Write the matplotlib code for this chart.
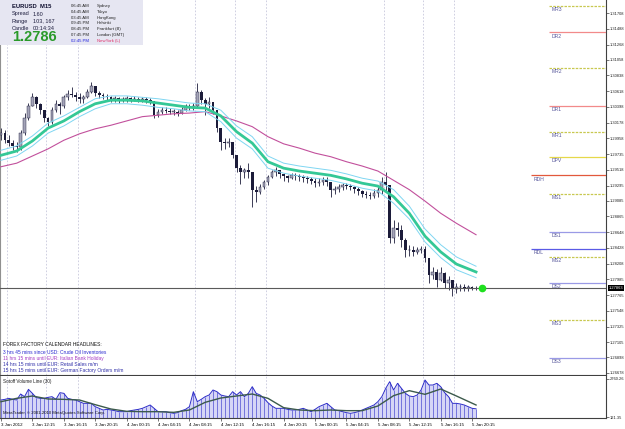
import numpy as np
import matplotlib
matplotlib.use('Agg')
import matplotlib.pyplot as plt
import matplotlib.transforms as mtransforms
from matplotlib.patches import Rectangle

plt.rcParams['font.family'] = ['Liberation Sans', 'DejaVu Sans']

W, H = 625, 429

# EURUSD M15, one sample every 2nd bar (bar 0 = 3 Jan 08:15)
bar_idx = list(range(0, 244, 2))
first_open = 1.3000
highs = [1.3010, 1.3007, 1.3000, 1.2993, 1.2991, 1.3007, 1.3031, 1.3045, 1.3059, 1.3055,
         1.3045, 1.3035, 1.3026, 1.3039, 1.3049, 1.3046, 1.3056, 1.3063, 1.3067, 1.3060,
         1.3059, 1.3056, 1.3065, 1.3074, 1.3067, 1.3062, 1.3059, 1.3058, 1.3055, 1.3055,
         1.3053, 1.3053, 1.3055, 1.3053, 1.3055, 1.3053, 1.3053, 1.3053, 1.3052, 1.3046,
         1.3037, 1.3039, 1.3039, 1.3038, 1.3037, 1.3035, 1.3039, 1.3044, 1.3044, 1.3045,
         1.3073, 1.3063, 1.3052, 1.3053, 1.3046, 1.3035, 1.3010, 1.2996, 1.2996, 1.2988,
         1.2972, 1.2958, 1.2954, 1.2961, 1.2949, 1.2929, 1.2932, 1.2937, 1.2944, 1.2951,
         1.2956, 1.2951, 1.2947, 1.2944, 1.2947, 1.2947, 1.2946, 1.2944, 1.2943, 1.2942,
         1.2940, 1.2940, 1.2942, 1.2942, 1.2935, 1.2929, 1.2932, 1.2933, 1.2933, 1.2932,
         1.2929, 1.2928, 1.2924, 1.2922, 1.2921, 1.2925, 1.2928, 1.2942, 1.2949, 1.2924,
         1.2882, 1.2879, 1.2875, 1.2856, 1.2847, 1.2845, 1.2844, 1.2845, 1.2845, 1.2823,
         1.2816, 1.2813, 1.2816, 1.2809, 1.2803, 1.2795, 1.2794, 1.2792, 1.2792, 1.2791,
         1.2789, 1.2789]
lows = [1.2993, 1.2989, 1.2985, 1.2979, 1.2977, 1.2979, 1.3000, 1.3021, 1.3041, 1.3038,
        1.3030, 1.3019, 1.3013, 1.3016, 1.3033, 1.3030, 1.3038, 1.3049, 1.3053, 1.3048,
        1.3045, 1.3045, 1.3052, 1.3059, 1.3055, 1.3052, 1.3051, 1.3049, 1.3046, 1.3046,
        1.3045, 1.3046, 1.3046, 1.3046, 1.3048, 1.3046, 1.3046, 1.3045, 1.3044, 1.3024,
        1.3026, 1.3030, 1.3031, 1.3030, 1.3028, 1.3027, 1.3030, 1.3034, 1.3035, 1.3035,
        1.3038, 1.3044, 1.3028, 1.3038, 1.3030, 1.3005, 1.2979, 1.2981, 1.2984, 1.2968,
        1.2949, 1.2932, 1.2940, 1.2940, 1.2900, 1.2907, 1.2918, 1.2925, 1.2930, 1.2940,
        1.2943, 1.2940, 1.2936, 1.2935, 1.2939, 1.2937, 1.2936, 1.2935, 1.2933, 1.2932,
        1.2928, 1.2929, 1.2930, 1.2929, 1.2914, 1.2918, 1.2921, 1.2924, 1.2925, 1.2924,
        1.2919, 1.2917, 1.2914, 1.2912, 1.2911, 1.2912, 1.2914, 1.2918, 1.2921, 1.2849,
        1.2849, 1.2859, 1.2844, 1.2830, 1.2831, 1.2831, 1.2834, 1.2836, 1.2823, 1.2794,
        1.2799, 1.2788, 1.2796, 1.2787, 1.2784, 1.2775, 1.2780, 1.2782, 1.2782, 1.2782,
        1.2784, 1.2784]
closes = [1.3003, 1.2993, 1.2989, 1.2985, 1.2984, 1.3003, 1.3024, 1.3041, 1.3053, 1.3044,
          1.3035, 1.3024, 1.3019, 1.3035, 1.3044, 1.3041, 1.3053, 1.3058, 1.3056, 1.3053,
          1.3051, 1.3053, 1.3060, 1.3069, 1.3059, 1.3056, 1.3055, 1.3053, 1.3051, 1.3052,
          1.3049, 1.3051, 1.3052, 1.3049, 1.3051, 1.3049, 1.3051, 1.3049, 1.3048, 1.3028,
          1.3033, 1.3035, 1.3034, 1.3033, 1.3033, 1.3031, 1.3035, 1.3041, 1.3038, 1.3041,
          1.3060, 1.3049, 1.3044, 1.3046, 1.3035, 1.3010, 1.2991, 1.2989, 1.2991, 1.2972,
          1.2954, 1.2949, 1.2951, 1.2949, 1.2924, 1.2921, 1.2928, 1.2935, 1.2942, 1.2949,
          1.2951, 1.2946, 1.2943, 1.2940, 1.2944, 1.2943, 1.2942, 1.2940, 1.2939, 1.2936,
          1.2933, 1.2935, 1.2937, 1.2935, 1.2924, 1.2925, 1.2928, 1.2930, 1.2929, 1.2928,
          1.2925, 1.2922, 1.2918, 1.2917, 1.2915, 1.2919, 1.2924, 1.2935, 1.2930, 1.2856,
          1.2871, 1.2868, 1.2854, 1.2840, 1.2840, 1.2837, 1.2840, 1.2841, 1.2829, 1.2805,
          1.2809, 1.2798, 1.2808, 1.2794, 1.2798, 1.2785, 1.2788, 1.2788, 1.2787, 1.2788,
          1.2787, 1.2786]
current_price = 1.27863

# moving averages, sampled every 8 bars
ma_idx = list(range(0, 233, 8)) + [242]
ma_green = [1.2972, 1.2978, 1.2992, 1.3010, 1.3020, 1.3033, 1.3044, 1.3049, 1.3049, 1.3048,
            1.3045, 1.3042, 1.3039, 1.3038, 1.3027, 1.3005, 1.2989, 1.2963, 1.2954, 1.2950,
            1.2947, 1.2944, 1.2939, 1.2933, 1.2929, 1.2914, 1.2891, 1.2859, 1.2837, 1.2820, 1.2809]
band_upper = [1.2979, 1.2985, 1.2999, 1.3017, 1.3027, 1.3039, 1.3051, 1.3055, 1.3055, 1.3053,
              1.3051, 1.3048, 1.3045, 1.3044, 1.3035, 1.3013, 1.2998, 1.2971, 1.2961, 1.2957,
              1.2954, 1.2951, 1.2946, 1.2940, 1.2936, 1.2924, 1.2901, 1.2869, 1.2847, 1.2830, 1.2817]
band_lower = [1.2965, 1.2971, 1.2985, 1.3003, 1.3013, 1.3026, 1.3037, 1.3044, 1.3044, 1.3042,
              1.3039, 1.3037, 1.3034, 1.3033, 1.3019, 1.2996, 1.2981, 1.2954, 1.2947, 1.2943,
              1.2940, 1.2937, 1.2932, 1.2926, 1.2922, 1.2905, 1.2883, 1.2851, 1.2829, 1.2812, 1.2801]
ma_slow = [1.2956, 1.2961, 1.2971, 1.2981, 1.2993, 1.3002, 1.3009, 1.3014, 1.3020, 1.3026,
           1.3028, 1.3030, 1.3031, 1.3033, 1.3027, 1.3020, 1.3012, 1.2998, 1.2988, 1.2982,
           1.2975, 1.2970, 1.2963, 1.2957, 1.2950, 1.2937, 1.2924, 1.2908, 1.2891, 1.2877, 1.2861]

# volume indicator
volumes = [1301, 1347, 1417, 1347, 1301, 1717, 1532, 2041, 1764, 1463,
           1417, 1417, 1486, 1532, 1347, 1810, 1764, 1417, 1347, 1301,
           1185, 1070, 1070, 1070, 838, 723, 607, 653, 607, 561,
           491, 491, 491, 561, 607, 653, 723, 838, 954, 723,
           491, 491, 491, 422, 376, 422, 561, 653, 838, 1879,
           1185, 1347, 1532, 1648, 1995, 1879, 1648, 1579, 1532, 1879,
           1648, 1879, 1532, 1764, 2226, 1764, 1648, 1417, 1116, 885,
           723, 723, 723, 653, 607, 607, 653, 723, 607, 491,
           653, 838, 954, 1070, 838, 607, 561, 491, 422, 376,
           422, 491, 607, 723, 838, 954, 1185, 1532, 2111, 2573,
           1995, 2458, 2111, 1764, 1579, 1532, 1648, 1995, 2689, 2342,
           2342, 2458, 2226, 1810, 1532, 1070, 1070, 1024, 954, 838,
           723, 690]
volume_ma = [1185, 1417, 1579, 1370, 1347, 1301, 977, 677, 515, 491, 491, 445, 607, 1139, 1440,
             1579, 1717, 1417, 769, 607, 561, 607, 561, 561, 885, 1602, 1949, 1694, 2065, 1579, 954]
vol_labels = ['2760.26', '121.35']

# pivot levels
pivot_names = ['MR3', 'DR2', 'MR2', 'DR1', 'MR1', 'DPV', 'RDH', 'MS1', 'DS1', 'RDL', 'MS2', 'DS2', 'MS3', 'DS3']
pivot_prices = [1.3181, 1.3144, 1.3094, 1.3041, 1.3005, 1.2970, 1.2944, 1.2918, 1.2865, 1.2841,
                1.2830, 1.2794, 1.2742, 1.2689]

price_labels = ['1.31708', '1.31488', '1.31268', '1.31058', '1.30838', '1.30618', '1.30398', '1.30178',
                '1.29958', '1.29735', '1.29518', '1.29295', '1.29085', '1.28865', '1.28648', '1.28428',
                '1.28208', '1.27985', '1.27765', '1.27548', '1.27325', '1.27105', '1.26898', '1.26678']
time_labels = ['3 Jan 2012', '3 Jan 12:15', '3 Jan 16:15', '3 Jan 20:15', '4 Jan 00:15', '4 Jan 04:15',
               '4 Jan 08:15', '4 Jan 12:15', '4 Jan 16:15', '4 Jan 20:15', '5 Jan 00:15', '5 Jan 04:15',
               '5 Jan 08:15', '5 Jan 12:15', '5 Jan 16:15', '5 Jan 20:15']

info_left = [('Spread', '1.60'), ('Range', '103, 167'), ('Candle', '00:14:34')]
clock_times = ['06:45 AM', '04:45 AM', '03:45 AM', '09:45 PM', '08:45 PM', '07:45 PM', '02:45 PM']
clock_cities = ['Sydney', 'Tokyo', 'HongKong', 'Helsinki', 'Frankfurt (B)', 'London (GMT)', 'NewYork (L)']
headlines = ['3 hrs 45 mins since USD: Crude Oil Inventories',
             '11 hrs 15 mins until EUR: Italian Bank Holiday',
             '14 hrs 15 mins until EUR: Retail Sales m/m',
             '15 hrs 15 mins until EUR: German Factory Orders m/m']
headline_colors = ['#2b2bd0', '#a63cc4', '#2f2fa8', '#2f2fa8']


def px(x, y):
    return x / W, 1 - y / H


fig = plt.figure(figsize=(W / 100, H / 100), dpi=100)
fig.patch.set_facecolor('white')

ax = fig.add_axes([0, 54 / H, 606 / W, 375 / H])
ax2 = fig.add_axes([0, 11 / H, 606 / W, 42 / H])

x_left, x_right = -0.5, 308.2
ax.set_xlim(x_left, x_right)
ax2.set_xlim(x_left, x_right)
ax.set_ylim(1.26650, 1.31890)
ax2.set_ylim(52, 2967)

# vertical dashed grid
for g in [3, 23, 39, 99, 119, 135, 195, 215, 231]:
    for a in (ax, ax2):
        a.axvline(g, color='#c8c8dc', lw=0.6, ls=(0, (2, 2)), zorder=0)

# candles
bars = np.array(bar_idx)
cl = np.array(closes)
op = np.array([first_open] + closes[:-1])
hi = np.maximum(np.array(highs), np.maximum(op, cl))
lo = np.minimum(np.array(lows), np.minimum(op, cl))
up = cl >= op
ax.vlines(bars, lo, hi, color='#1c1c3a', lw=0.6, zorder=2)
ax.bar(bars[up], np.maximum((cl - op)[up], 0.00003), bottom=op[up], width=1.4,
       color='#a4a4b8', edgecolor='#1c1c3a', lw=0.3, zorder=3)
ax.bar(bars[~up], (op - cl)[~up], bottom=cl[~up], width=1.4, color='#1c1c3a', lw=0, zorder=3)

# moving averages
ax.plot(ma_idx, ma_slow, color='#c2509c', lw=0.8, zorder=4)
ax.plot(ma_idx, band_upper, color='#7fd6f2', lw=0.7, zorder=4)
ax.plot(ma_idx, band_lower, color='#7fd6f2', lw=0.7, zorder=4)
ax.plot(ma_idx, ma_green, color='#34c896', lw=2.0, zorder=5)

# current price
ax.axhline(current_price, color='#5a5a5a', lw=0.8, zorder=4)
ax.plot(bar_idx[-1] + 3, current_price, 'o', color='#1ee01e', ms=4.5, zorder=6)

# pivot lines
pivot_style = {'MR': ('#c8c850', (0, (2, 1))), 'MS': ('#c8c850', (0, (2, 1))),
               'DR': ('#f28a8a', '-'), 'DS': ('#9a9ae6', '-'),
               'DP': ('#e6d84a', '-')}
for name, p in zip(pivot_names, pivot_prices):
    if name == 'RDH':
        col, ls, x0 = '#e2583c', '-', 270
    elif name == 'RDL':
        col, ls, x0 = '#5a5ae6', '-', 270
    else:
        col, ls = pivot_style[name[:2]]
        x0 = 279
    ax.hlines(p, x0, x_right, color=col, lw=0.9, linestyles=ls, zorder=3)
    ax.text(x0 + 1.5, p - 0.0002, name, fontsize=3.6, color='#55559a', va='top', ha='left', zorder=6)

# price axis
for a in (ax, ax2):
    a.yaxis.tick_right()
    a.tick_params(axis='y', length=2, width=0.5, color='#404040', labelsize=2.9, pad=1,
                  labelcolor='#202020')
    a.spines['top'].set_visible(False)
    a.spines['left'].set_color('#909090')
    a.spines['right'].set_color('#404040')
    a.spines['bottom'].set_color('#404040')
    for s in ('left', 'right', 'bottom'):
        a.spines[s].set_linewidth(0.8)
ax.set_yticks([float(s) for s in price_labels])
ax.set_yticklabels(price_labels)
ax.set_xticks([])
ax.text(1.004, current_price, f'{current_price:.5f}',
        transform=mtransforms.blended_transform_factory(ax.transAxes, ax.transData),
        fontsize=2.9, color='white', va='center', ha='left', clip_on=False, zorder=10,
        bbox=dict(boxstyle='square,pad=0.2', facecolor='black', edgecolor='none'))

# volume panel
vb = np.array(bar_idx)
vv = np.array(volumes)
ax2.fill_between(vb, 52, vv, color='#d6d6f6', lw=0, zorder=1)
ax2.vlines(vb, 52, vv, color='#6464d8', lw=0.6, zorder=2)
ax2.plot(vb, vv, color='#2c2cc8', lw=0.7, zorder=3)
ax2.plot(ma_idx, volume_ma, color='#3c5a4c', lw=1.0, zorder=4)
ax2.set_yticks([float(v) for v in vol_labels])
ax2.set_yticklabels(vol_labels)
ax2.set_xticks(list(range(0, 241, 16)))
ax2.set_xticklabels(time_labels, ha='left')
ax2.tick_params(axis='x', length=2, width=0.5, color='#404040', labelsize=3.2, pad=1.5)
ax2.text(3 / 606, 1 - 6 / 42, 'Sotoff Volume Line (30)', transform=ax2.transAxes, fontsize=3.3,
         color='#202020', va='center', ha='left', zorder=6)
ax2.text(3 / 606, 1 - 37 / 42, 'MetaTrader, \u00a9 2001-2010 MetaQuotes Software Corp.',
         transform=ax2.transAxes, fontsize=3.1, color='#101010', va='center', ha='left', zorder=6)

# info box
fig.add_artist(Rectangle(px(0, 45), 143 / W, 45 / H, transform=fig.transFigure,
                         facecolor='#e6e6f2', edgecolor='none', zorder=20))
fig.text(*px(12, 6), 'EURUSD  M15', fontsize=4.2, fontweight='bold', color='#101030', va='center', zorder=21)
for k, (lab, val) in enumerate(info_left):
    y = 14 + k * 7
    fig.text(*px(12, y), lab, fontsize=4.0, color='#202040', va='center', zorder=21)
    fig.text(*px(33, y), val, fontsize=4.0, color='#202040', va='center', zorder=21)
fig.text(*px(12, 37), f'{current_price:.4f}', fontsize=10.5, fontweight='bold',
         color='#2a9a2a', va='center', zorder=21)
for k, (t, c) in enumerate(zip(clock_times, clock_cities)):
    y = 6 + k * 5.8
    last = k == len(clock_times) - 1
    fig.text(*px(71, y), t, fontsize=3.1, color='#2222dd' if last else '#202020', va='center', zorder=21)
    fig.text(*px(97, y), c, fontsize=3.1, color='#e0306a' if last else '#202020', va='center', zorder=21)

# headlines
fig.text(*px(3, 345), 'FOREX FACTORY CALENDAR HEADLINES:', fontsize=3.5, color='#101010', va='center', zorder=21)
for k, (hl, col) in enumerate(zip(headlines, headline_colors)):
    fig.text(*px(3, 352 + k * 6.2), hl, fontsize=3.5, color=col, va='center', zorder=21)

fig.savefig('out.png', dpi=100, facecolor='white')
